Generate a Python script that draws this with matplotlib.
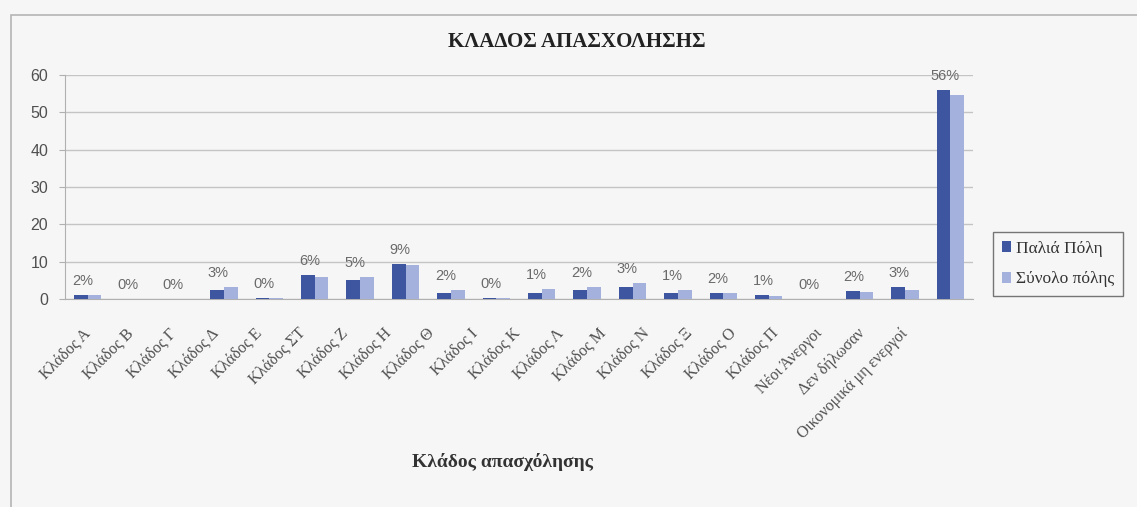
import matplotlib
matplotlib.use("Agg")
import matplotlib.pyplot as plt
import numpy as np
from matplotlib.patches import Rectangle

categories = ["Κλάδος Α", "Κλάδος Β", "Κλάδος Γ", "Κλάδος Δ", "Κλάδος Ε", "Κλάδος ΣΤ",
              "Κλάδος Ζ", "Κλάδος Η", "Κλάδος Θ", "Κλάδος Ι", "Κλάδος Κ", "Κλάδος Λ",
              "Κλάδος Μ", "Κλάδος Ν", "Κλάδος Ξ", "Κλάδος Ο", "Κλάδος Π", "Νέοι Άνεργοι",
              "Δεν δήλωσαν", "Οικονομικά μη ενεργοί"]
palia_poli = [1.2, 0.0, 0.0, 2.4, 0.2, 6.4, 5.1, 9.4, 1.6, 0.3, 1.6, 2.4,
              3.1, 1.6, 1.7, 1.1, 0.0, 2.2, 3.3, 56.0]
synolo_polis = [1.0, 0.0, 0.0, 3.2, 0.3, 5.9, 5.9, 9.0, 2.4, 0.4, 2.6, 3.1,
                4.3, 2.3, 1.6, 0.9, 0.1, 1.8, 2.5, 54.7]
pct_labels = ["2%", "0%", "0%", "3%", "0%", "6%", "5%", "9%", "2%", "0%", "1%", "2%",
              "3%", "1%", "2%", "1%", "0%", "2%", "3%", "56%"]
series_names = ["Παλιά Πόλη", "Σύνολο πόλης"]
yticks = [0, 10, 20, 30, 40, 50, 60]

W, H = 1137, 507
bg = "#f6f6f6"
fig = plt.figure(figsize=(W / 100, H / 100), dpi=100, facecolor=bg)

# outer chart frame
fig.patches.append(Rectangle((11 / W, -0.05), 1.2, 1 - 15 / H + 0.05, transform=fig.transFigure,
                             fill=False, edgecolor="#b4b4b4", linewidth=1.2))

ax = fig.add_axes([65 / W, 1 - 299 / H, (973 - 65) / W, (299 - 75) / H])
ax.set_facecolor(bg)

x = np.arange(len(categories))
bw = 0.3
dark = "#3d569f"
light = "#a3b1dc"
ax.bar(x - bw / 2, palia_poli, bw, color=dark, label=series_names[0], zorder=3)
ax.bar(x + bw / 2, synolo_polis, bw, color=light, label=series_names[1], zorder=3)

for i, lab in enumerate(pct_labels):
    top = max(palia_poli[i], synolo_polis[i])
    ax.annotate(lab, (x[i] - 0.12, top), xytext=(0, 5), textcoords="offset points",
                ha="center", va="bottom", fontsize=10.5, color="#6a6a6a",
                family="Liberation Sans")

ax.set_xlim(-0.5, len(categories) - 0.5)
ax.set_ylim(0, 60)
ax.set_yticks(yticks)
ax.set_yticklabels([str(v) for v in yticks], fontsize=11.5, color="#505050",
                   family="Liberation Sans")
ax.yaxis.grid(True, color="#c4c4c4", linewidth=1, zorder=0)
ax.tick_params(axis="y", length=4, color="#b0b0b0", pad=8)
ax.tick_params(axis="x", length=0, pad=0)

# category labels: in the source image they sit on a slightly narrower pitch than the bars
ax.set_xticks([])
lab_step = 0.948
for i, c in enumerate(categories):
    ax.annotate(c, (-0.12 + i * lab_step, 0), xycoords=("data", "axes fraction"),
                xytext=(0, -19), textcoords="offset points",
                rotation=45, ha="right", va="top", rotation_mode="anchor",
                fontsize=11.5, color="#505050", family="Liberation Serif",
                annotation_clip=False)

for s in ["top", "right"]:
    ax.spines[s].set_visible(False)
ax.spines["left"].set_color("#b0b0b0")
ax.spines["bottom"].set_color("#b0b0b0")

fig.text(577 / W, 1 - 42 / H, "ΚΛΑΔΟΣ ΑΠΑΣΧΟΛΗΣΗΣ", ha="center", va="center",
         fontsize=15, fontweight="bold", family="Liberation Serif", color="#222222")
fig.text(502 / W, 1 - 462 / H, "Κλάδος απασχόλησης", ha="center", va="center",
         fontsize=14, fontweight="bold", family="Liberation Serif", color="#333333")

leg = fig.legend(loc="upper left", bbox_to_anchor=(993 / W, 1 - 232 / H),
                 frameon=True, fancybox=False, edgecolor="#555555", facecolor=bg,
                 prop={"family": "Liberation Serif", "size": 12.5},
                 handlelength=0.55, handleheight=0.55, handletextpad=0.3,
                 labelspacing=0.85, borderpad=0.5, borderaxespad=0)
leg.get_frame().set_linewidth(1.0)
for t in leg.get_texts():
    t.set_color("#333333")

fig.savefig("out.png", dpi=100, facecolor=bg)
